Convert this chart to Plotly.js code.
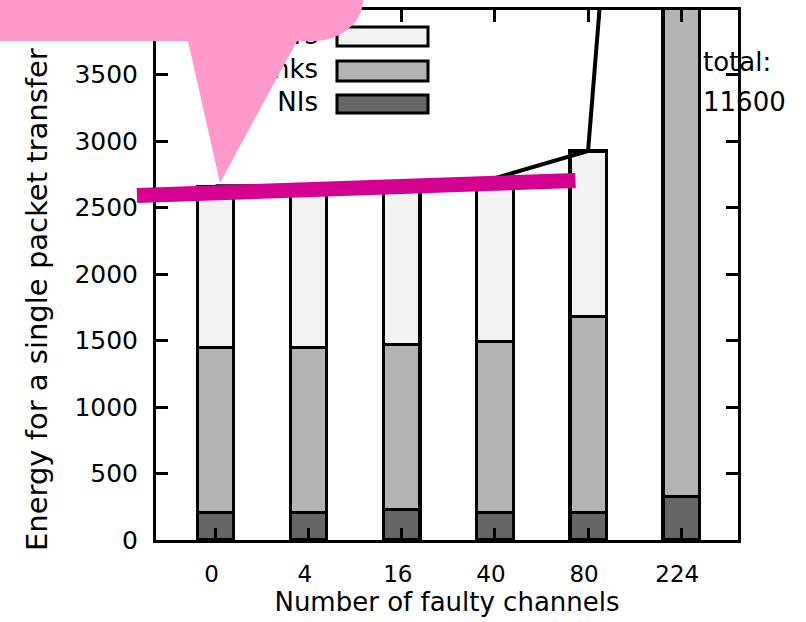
<!DOCTYPE html>
<html>
<head>
<meta charset="utf-8">
<script src="https://cdn.plot.ly/plotly-3.0.1.min.js"></script>
<style>
  html, body { margin: 0; padding: 0; background: #ffffff; }
  #chart { width: 806px; height: 622px; }
</style>
</head>
<body>
<div id="chart"></div>
<script>
// ---- data ----
const categories = ['0', '4', '16', '40', '80', '224'];
const nis     = [208, 208, 232, 208, 208, 330];
const links   = [1237, 1237, 1238, 1282, 1472, 9500];
const routers = [1215, 1215, 1210, 1230, 1245, 1770];
const legendLabels = ['routers', 'links', 'NIs'];
const yTickVals = [0, 500, 1000, 1500, 2000, 2500, 3000, 3500];
const xTitle = 'Number of faulty channels';
const yTitle = 'Energy for a single packet transfer';

const totals = categories.map((c, i) => nis[i] + links[i] + routers[i]);

// ---- layout helpers (pixel -> paper) ----
const W = 806, H = 622;
const L = 156, R = 68, T = 10, B = 82;
const PW = W - L - R, PH = H - T - B;
const px = x => (x - L) / PW;
const py = y => (T + PH - y) / PH;

const FONT = 'DejaVu Sans';
const barLine = { color: '#000000', width: 3.2 };
const barWidth = 0.39;

const traces = [
  { type: 'bar', name: legendLabels[2], x: categories, y: nis, width: barWidth,
    marker: { color: '#666666', line: barLine }, showlegend: false, hoverinfo: 'skip' },
  { type: 'bar', name: legendLabels[1], x: categories, y: links, width: barWidth,
    marker: { color: '#b3b3b3', line: barLine }, showlegend: false, hoverinfo: 'skip' },
  { type: 'bar', name: legendLabels[0], x: categories, y: routers, width: barWidth,
    marker: { color: '#f2f2f2', line: barLine }, showlegend: false, hoverinfo: 'skip' },
  { type: 'scatter', mode: 'lines', x: categories, y: totals,
    line: { color: '#000000', width: 4 }, showlegend: false, hoverinfo: 'skip' },
  // legend labels (drawn in plot layer so the bubble covers them)
  { type: 'scatter', mode: 'text', xaxis: 'x2', yaxis: 'y2',
    x: legendLabels.map(() => px(318)),
    y: [py(37), py(71), py(104)],
    text: legendLabels, textposition: 'middle left',
    textfont: { family: FONT, size: 26, color: '#000000' },
    showlegend: false, hoverinfo: 'skip' }
];

const swatchColors = ['#f2f2f2', '#b3b3b3', '#666666'];
const swatchY = [[27, 46], [61, 81], [95, 113]];
const shapes = [];
swatchY.forEach((s, i) => {
  shapes.push({ type: 'rect', xref: 'paper', yref: 'paper', layer: 'above',
    x0: px(337), x1: px(428), y0: py(s[1]), y1: py(s[0]),
    fillcolor: swatchColors[i], line: { color: '#000000', width: 3 } });
});
// magenta line
shapes.push({ type: 'line', xref: 'paper', yref: 'paper', layer: 'above',
  x0: px(137), y0: py(195.5), x1: px(575.5), y1: py(180.5),
  line: { color: 'rgb(212,0,143)', width: 15 } });
// pink speech bubble
const f = (x, y) => px(x).toFixed(5) + ',' + py(y).toFixed(5);
const bubblePath = 'M ' + f(-20, -20) + ' L ' + f(363, -20) + ' L ' + f(363, 0) +
  ' C ' + f(363, 22.6) + ' ' + f(340.6, 41) + ' ' + f(313, 41) +
  ' L ' + f(297, 41) + ' L ' + f(220, 183) + ' L ' + f(188, 41) +
  ' L ' + f(-20, 41) + ' Z';
shapes.push({ type: 'path', xref: 'paper', yref: 'paper', layer: 'above',
  path: bubblePath, fillcolor: 'rgb(255,153,204)', line: { width: 0 } });

const annotations = [
  { xref: 'paper', yref: 'paper', x: px(37), y: py(300), text: yTitle, textangle: -90,
    showarrow: false, xanchor: 'center', yanchor: 'middle',
    font: { family: FONT, size: 29, color: '#000000' } },
  { xref: 'paper', yref: 'paper', x: px(701), y: py(62), text: 'total:',
    showarrow: false, xanchor: 'left', yanchor: 'middle',
    font: { family: FONT, size: 26, color: '#000000' } },
  { xref: 'paper', yref: 'paper', x: px(701), y: py(102), text: String(totals[5]),
    showarrow: false, xanchor: 'left', yanchor: 'middle',
    font: { family: FONT, size: 26, color: '#000000' } }
];

const layout = {
  width: W, height: H,
  margin: { l: L, r: R, t: T, b: B, pad: 0 },
  paper_bgcolor: '#ffffff', plot_bgcolor: '#ffffff',
  barmode: 'stack',
  font: { family: FONT, color: '#000000' },
  xaxis: {
    type: 'category', range: [-0.64, 5.61],
    showline: true, linecolor: '#000000', linewidth: 3, mirror: 'allticks',
    ticks: 'inside', ticklen: 12, tickwidth: 3, tickcolor: '#000000',
    showgrid: false, zeroline: false,
    tickfont: { family: FONT, size: 23, color: '#000000' },
    ticklabelstandoff: 11, ticklabelshift: -4,
    title: { text: xTitle, font: { family: FONT, size: 26, color: '#000000' }, standoff: 8 },
    automargin: false, fixedrange: true
  },
  yaxis: {
    range: [0, 3985], tickvals: yTickVals, ticktext: yTickVals.map(String),
    showline: true, linecolor: '#000000', linewidth: 3, mirror: 'allticks',
    ticks: 'inside', ticklen: 12, tickwidth: 3, tickcolor: '#000000',
    showgrid: false, zeroline: false,
    tickfont: { family: FONT, size: 25, color: '#000000' },
    ticklabelstandoff: 10,
    automargin: false, fixedrange: true
  },
  xaxis2: { overlaying: 'x', range: [0, 1], visible: false, fixedrange: true },
  yaxis2: { overlaying: 'y', range: [0, 1], visible: false, fixedrange: true },
  shapes: shapes,
  annotations: annotations,
  showlegend: false
};

Plotly.newPlot('chart', traces, layout, { staticPlot: true, displayModeBar: false });
</script>
</body>
</html>
